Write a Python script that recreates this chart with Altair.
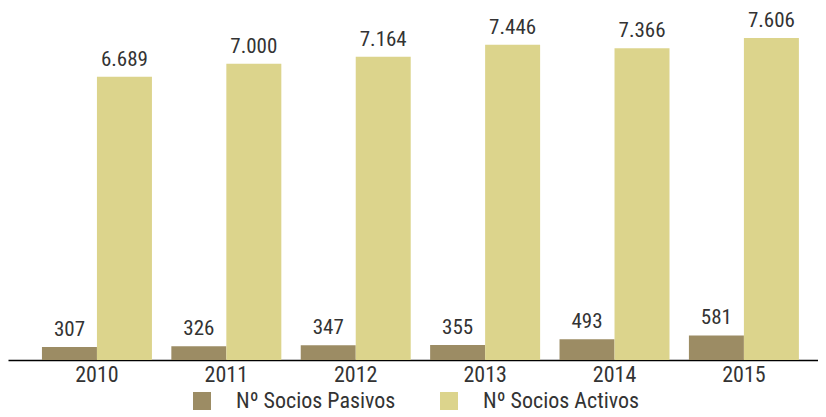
import altair as alt
import pandas as pd

years = ["2010", "2011", "2012", "2013", "2014", "2015"]
pasivos = [307, 326, 347, 355, 493, 581]
activos = [6689, 7000, 7164, 7446, 7366, 7606]
series = ["Nº Socios Pasivos", "Nº Socios Activos"]
colors = ["#9C8C64", "#DCD48C"]

rows = []
for i, yr in enumerate(years):
    for s, vals in zip(series, [pasivos, activos]):
        v = vals[i]
        rows.append({"year": yr, "serie": s, "value": v,
                     "label": f"{v:,}".replace(",", ".")})
df = pd.DataFrame(rows)

FONT = "Liberation Sans Narrow, Roboto Condensed, DejaVu Sans Condensed, sans-serif"
TXT = "#333333"

base = alt.Chart(df).encode(
    x=alt.X("year:N", sort=years,
            scale=alt.Scale(paddingInner=0.15, paddingOuter=0.205, align=0.64, round=False),
            axis=alt.Axis(title=None, labelAngle=0, labelFont=FONT, labelFontSize=22,
                          labelColor=TXT, labelPadding=4, ticks=False,
                          domainColor="#000000", domainWidth=1.3, grid=False)),
    xOffset=alt.XOffset("serie:N", sort=series,
                        scale=alt.Scale(paddingInner=0, paddingOuter=0, round=False)),
    y=alt.Y("value:Q", scale=alt.Scale(domain=[0, 8314], nice=False), axis=None),
)

bars = base.mark_bar().encode(
    color=alt.Color("serie:N", sort=series,
                    scale=alt.Scale(domain=series, range=colors),
                    legend=alt.Legend(title=None, orient="none", legendX=183, legendY=382,
                                      direction="horizontal", symbolType="square",
                                      symbolSize=324, symbolStrokeWidth=0,
                                      labelFont=FONT, labelFontSize=22, labelColor=TXT,
                                      labelOffset=23, columnPadding=42, padding=0))
)

text = base.mark_text(baseline="bottom", dy=-7, font=FONT, fontSize=21,
                      color=TXT).encode(text="label:N")

chart = (bars + text).properties(
    width=810, height=352,
    autosize=alt.AutoSizeParams(type="none"),
    padding={"left": 0, "top": 0, "right": 0, "bottom": 62},
).configure_view(stroke=None)

chart.save("out.html", embed_options={"renderer": "svg", "actions": False})
